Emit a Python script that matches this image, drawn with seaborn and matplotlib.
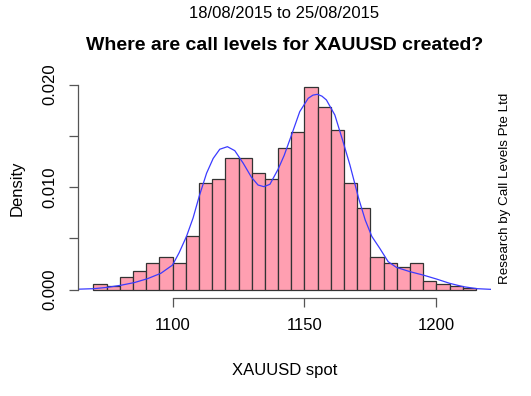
import pandas as pd
import matplotlib
matplotlib.use("Agg")
import matplotlib.pyplot as plt
import seaborn as sns

# histogram of call levels, 5-dollar bins from 1070 to 1215 (counts out of 1000)
bin_edges = list(range(1070, 1220, 5))
counts = [3, 2, 6, 9, 13, 16, 13, 26, 52, 54, 64, 64, 57, 54, 69,
          77, 99, 89, 78, 52, 40, 16, 13, 11, 13, 4, 3, 2, 1]
centers = [e + 2.5 for e in bin_edges[:-1]]
df = pd.DataFrame({'spot': centers, 'n': counts})

# density curve
kde_x = [1063.4, 1070.3, 1075.4, 1080.4, 1085.5, 1090.5, 1095.6, 1100.0, 1102.5,
         1105.3, 1107.8, 1110.1, 1112.9, 1115.4, 1117.9, 1120.8, 1123.6, 1126.8,
         1129.9, 1132.4, 1134.6, 1136.9, 1140.0, 1142.3, 1145.1, 1148.2, 1151.4,
         1153.2, 1154.9, 1156.6, 1158.3, 1161.5, 1164.6, 1167.2, 1170.5, 1173.0,
         1175.5, 1178.5, 1181.7, 1184.8, 1189.9, 1194.9, 1200.0, 1205.0, 1210.0,
         1215.2, 1220.8]
kde_y = [0.00004, 0.0001, 0.00023, 0.00043, 0.00069, 0.00107, 0.0016, 0.0024, 0.0036,
         0.0052, 0.0070, 0.0091, 0.01136, 0.0128, 0.0137, 0.01395, 0.01356, 0.01233,
         0.01097, 0.01021, 0.01005, 0.01028, 0.01175, 0.0131, 0.0151, 0.01737, 0.01867,
         0.01898, 0.01906, 0.01888, 0.01851, 0.01704, 0.01444, 0.01217, 0.00892, 0.0068,
         0.0052, 0.00404, 0.00273, 0.00218, 0.00176, 0.00143, 0.00104, 0.00062, 0.0003,
         0.0001, 0.00003]

sns.set_style("white")
plt.rcParams['font.family'] = ['Liberation Sans', 'DejaVu Sans']
plt.rcParams['text.color'] = 'black'
plt.rcParams['axes.labelcolor'] = 'black'
plt.rcParams['xtick.labelcolor'] = 'black'
plt.rcParams['ytick.labelcolor'] = 'black'

fig = plt.figure(figsize=(5.31, 3.96), dpi=100)
ax = fig.add_axes([78 / 531, 1 - 297.8 / 396, (491.4 - 78) / 531, (297.8 - 78.6) / 396])

sns.histplot(data=df, x='spot', weights='n', bins=bin_edges, stat='density',
             color='#FF9FB1', alpha=1, edgecolor='#333333', linewidth=0.9, ax=ax)
sns.lineplot(x=kde_x, y=kde_y, sort=False, color='#3B3BFF', linewidth=0.9, ax=ax)

ax.set_xlim(1064.2, 1220.8)
ax.set_ylim(-0.000792, 0.020592)

for s in ['top', 'right']:
    ax.spines[s].set_visible(False)
ax.spines['left'].set_bounds(0, 0.020)
ax.spines['bottom'].set_bounds(1100, 1200)
for s in ['left', 'bottom']:
    ax.spines[s].set_color('#555555')
    ax.spines[s].set_linewidth(0.9)

ax.set_xticks([1100, 1150, 1200])
ax.set_xticklabels(['1100', '1150', '1200'], fontsize=12)
ax.set_yticks([0, 0.005, 0.010, 0.015, 0.020])
ax.set_yticklabels(['0.000', '', '0.010', '', '0.020'], fontsize=12, rotation=90, va='center')
ax.tick_params(axis='both', direction='out', length=6.5, width=0.9, color='#555555', pad=8, left=True, bottom=True)

ax.set_xlabel('XAUUSD spot', fontsize=12, labelpad=22)
ax.set_ylabel('Density', fontsize=12, labelpad=13)

fig.text(284.5 / 531, 1 - 13 / 396, '18/08/2015 to 25/08/2015', ha='center', va='center', fontsize=12)
fig.text(284.5 / 531, 1 - 45 / 396, 'Where are call levels for XAUUSD created?', ha='center', va='center',
         fontsize=14, fontweight='bold')
fig.text(505 / 531, 1 - 188 / 396, 'Research by Call Levels Pte Ltd', ha='center', va='center',
         rotation=90, fontsize=9.6)

fig.savefig('out.png', dpi=100)
